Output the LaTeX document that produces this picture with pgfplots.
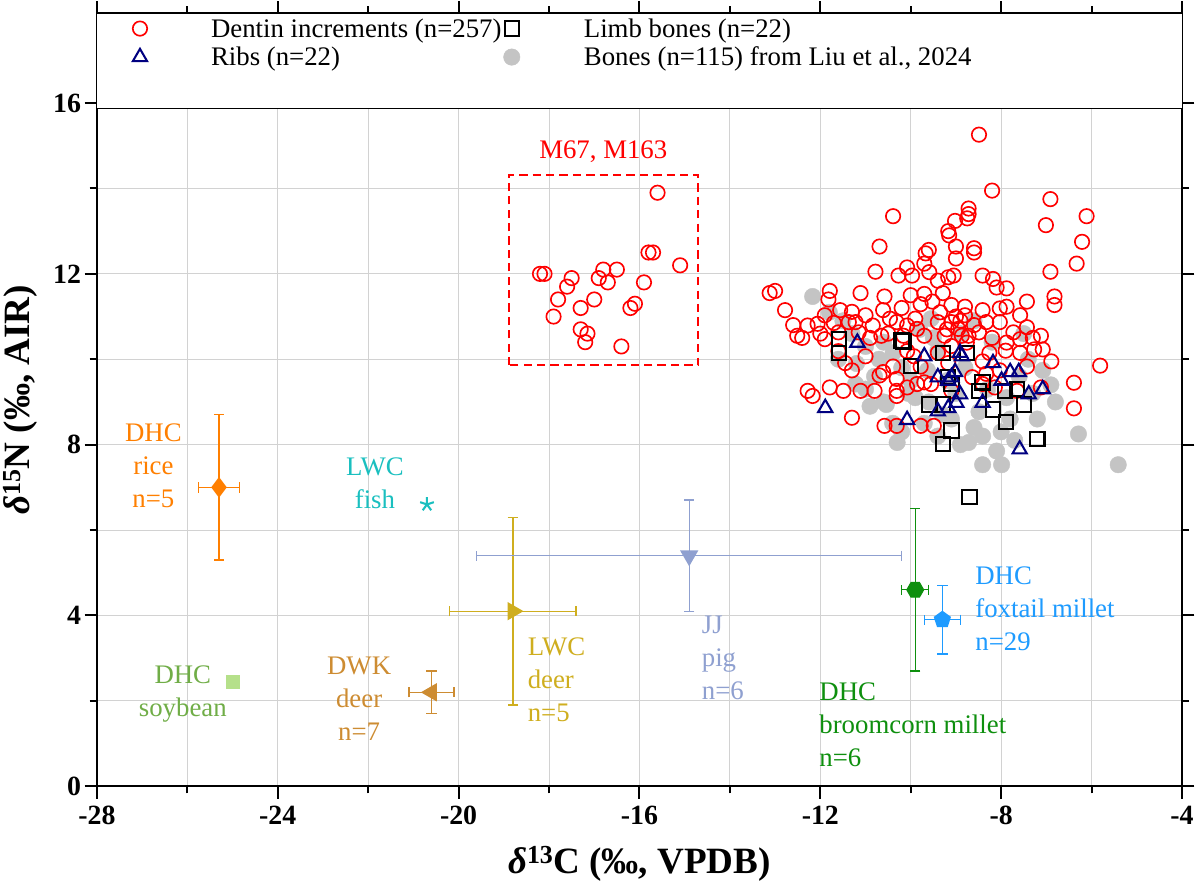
\documentclass[border=0pt]{standalone}
\usepackage{pgfplots}
\pgfplotsset{compat=1.18}
\usepackage{fontspec}
\setmainfont{Liberation Serif}
\pgfdeclareplotmark{hexagon*}{%
  \pgfpathmoveto{\pgfqpointpolar{0}{1.15\pgfplotmarksize}}%
  \pgfpathlineto{\pgfqpointpolar{60}{1.15\pgfplotmarksize}}%
  \pgfpathlineto{\pgfqpointpolar{120}{1.15\pgfplotmarksize}}%
  \pgfpathlineto{\pgfqpointpolar{180}{1.15\pgfplotmarksize}}%
  \pgfpathlineto{\pgfqpointpolar{240}{1.15\pgfplotmarksize}}%
  \pgfpathlineto{\pgfqpointpolar{300}{1.15\pgfplotmarksize}}%
  \pgfpathclose\pgfusepathqfillstroke}
\definecolor{cRice}{HTML}{FF7F00}
\definecolor{cFish}{HTML}{1ABFBF}
\definecolor{cSoyM}{HTML}{B5E08A}
\definecolor{cSoyT}{HTML}{70AD47}
\definecolor{cDWK}{HTML}{CD8C32}
\definecolor{cLWC}{HTML}{CFAE1F}
\definecolor{cPig}{HTML}{8FA0D0}
\definecolor{cBroom}{HTML}{0E8F0E}
\definecolor{cFox}{HTML}{1E9BFF}
\definecolor{cNavy}{HTML}{000080}
\definecolor{cGray}{HTML}{C4C4C4}
\begin{document}
\begin{tikzpicture}
\begin{axis}[
  scale only axis, width=1053pt, height=750pt,
  xmin=-28, xmax=-4, ymin=0, ymax=18.1,
  xtick={-28,-24,-20,-16,-12,-8,-4},
  xticklabels={-28,-24,-20,-16,-12,-8,-4},
  ytick={0,4,8,12,16},
  minor tick num=1,
  tick align=outside,
  major tick length=12pt, minor tick length=7pt,
  every tick/.style={black, line width=2pt},
  axis line style={line width=2pt},
  grid=both,
  major grid style={gray!35, line width=1pt},
  minor grid style={gray!35, line width=1pt},
  /pgf/number format/assume math mode=true,
  ticklabel style={font=\fontsize{27}{32}\selectfont\bfseries},
  xticklabel style={yshift=-4pt},
  xlabel={\fontsize{36}{40}\selectfont\bfseries{\itshape δ}\textsuperscript{13}C (‰, VPDB)},
  ylabel={\fontsize{36}{40}\selectfont\bfseries{\itshape δ}\textsuperscript{15}N (‰, AIR)},
  xlabel style={yshift=-14pt},
  ylabel style={yshift=8pt},
  legend columns=2,
  legend style={draw=none, fill=none, at={(0.03,0.999)}, anchor=north west,
    font=\fontsize{26}{30}\selectfont, row sep=4pt,
    /tikz/every odd column/.append style={column sep=60pt}},
  legend cell align=left,
]
% legend images
\addlegendimage{only marks, mark=o, mark size=7pt, red, line width=1.6pt}
\addlegendentry{Dentin increments (n=257)}
\addlegendimage{only marks, mark=square, mark size=7pt, black, line width=2pt}
\addlegendentry{Limb bones (n=22)}
\addlegendimage{only marks, mark=triangle, mark size=8pt, cNavy, line width=2pt}
\addlegendentry{Ribs (n=22)}
\addlegendimage{only marks, mark=*, mark size=8pt, cGray, draw=cGray}
\addlegendentry{Bones (n=115) from Liu et al., 2024}

% gray bones
\addplot[only marks, mark=*, mark size=8pt, color=cGray, forget plot] coordinates {
(-12.17,11.47)(-11.8,11.1)(-11.5,10.9)(-11.3,10.6)(-11.0,10.3)(-11.22,9.42)(-11.0,9.3)(-10.8,9.6)
(-10.54,8.94)(-10.3,8.05)(-10.4,8.5)(-10.6,9.0)(-10.39,10.15)(-10.2,9.8)(-10.0,9.5)(-9.9,9.1)
(-9.63,9.74)(-9.55,10.95)(-9.5,10.5)(-9.4,10.2)(-9.6,9.0)(-9.3,8.7)(-9.1,8.6)(-9.0,9.2)
(-8.8,9.8)(-8.72,8.05)(-8.6,8.4)(-8.49,8.77)(-8.41,8.2)(-8.41,7.53)(-8.1,7.85)(-7.99,7.53)
(-7.88,9.1)(-7.8,8.6)(-7.6,9.6)(-7.4,10.0)(-7.08,9.74)(-7.3,9.2)(-6.9,9.4)(-6.29,8.25)
(-5.41,7.53)(-8.2,10.4)(-8.9,10.6)(-9.8,10.7)(-10.6,10.4)(-11.2,9.9)(-10.9,8.9)(-10.2,8.3)
(-9.4,8.2)(-8.3,9.3)(-8.0,8.3)(-7.7,8.1)(-7.2,8.6)(-6.8,9.0)(-9.2,9.5)(-10.05,9.2)
(-10.7,10.0)(-11.6,10.0)(-8.6,10.9)(-7.5,10.6)(-9.7,8.5)(-8.9,8.0)};

% red dentin
\addplot[only marks, mark=o, mark size=7pt, red, line width=1.6pt, forget plot] coordinates {
(-18.2,12.0)(-18.1,12.0)(-17.9,11.0)(-17.8,11.4)(-17.6,11.7)(-17.5,11.9)(-17.3,11.2)(-17.3,10.7)
(-17.2,10.4)(-17.15,10.6)(-17.0,11.4)(-16.9,11.9)(-16.8,12.1)(-16.7,11.8)(-16.5,12.1)(-16.4,10.3)
(-16.2,11.2)(-16.1,11.3)(-15.9,11.8)(-15.8,12.5)(-15.7,12.5)(-15.6,13.9)(-15.1,12.2)
(-8.49,15.26)(-8.20,13.95)(-6.91,13.75)(-6.11,13.35)(-7.01,13.14)(-6.21,12.75)(-6.33,12.24)
(-10.39,13.35)(-10.69,12.64)(-8.72,13.53)(-8.72,13.4)(-8.75,13.3)(-9.02,13.24)(-9.17,13.0)(-9.15,12.9)(-8.6,12.6)(-8.6,12.5)
(-9.0,12.64)(-9.0,12.36)(-9.67,12.48)(-9.6,12.56)(-9.7,12.24)(-10.78,12.05)(-10.08,12.15)
(-10.27,11.96)(-9.97,11.96)(-9.59,12.04)(-9.4,11.84)(-9.17,11.92)(-9.05,11.96)(-8.41,11.96)
(-8.18,11.88)(-6.91,12.05)(-8.1,11.68)(-7.88,11.66)(-6.82,11.47)(-6.82,11.27)(-7.43,11.35)
(-13.12,11.55)(-13.0,11.6)(-12.78,11.15)(-11.79,11.6)(-11.82,11.4)(-11.11,11.55)(-10.58,11.47)
(-9.7,11.53)(-10.0,11.5)(-9.78,11.29)(-9.52,11.35)(-9.29,11.55)(-9.1,11.27)(-8.8,11.23)
(-8.41,11.15)(-8.03,11.19)(-7.88,11.23)(-7.58,11.03)(-11.3,11.11)(-11.56,11.15)(-11.0,11.03)
(-10.61,11.15)(-10.46,10.95)(-12.28,10.79)(-12.51,10.55)(-12.06,10.83)(-11.9,11.03)
(-11.37,10.87)(-11.22,10.87)(-11.6,10.63)(-11.15,10.63)(-10.84,10.79)(-10.65,10.55)(-10.31,10.87)
(-10.08,10.79)(-9.86,10.71)(-10.16,10.55)(-9.7,10.55)(-9.4,10.87)(-9.1,10.87)(-8.8,11.03)
(-8.95,10.71)(-8.72,10.55)(-8.49,10.63)(-8.33,10.87)(-8.03,10.87)(-7.73,10.63)(-7.43,10.75)
(-7.12,10.55)(-7.58,10.47)(-7.27,10.23)(-7.08,10.23)(-6.89,9.95)(-5.81,9.85)(-6.39,9.45)
(-6.39,8.85)(-7.43,9.83)(-7.58,10.15)(-7.88,10.39)(-8.26,10.15)(-8.41,9.95)(-8.03,9.74)
(-7.12,9.34)(-7.65,9.26)(-11.9,10.47)(-11.45,9.91)(-11.3,9.74)(-11.6,10.19)(-11.0,10.07)
(-10.61,9.7)(-10.69,9.62)(-10.39,9.83)(-10.31,9.54)(-10.08,10.19)(-9.93,10.07)(-9.78,9.83)
(-9.86,9.42)(-9.7,9.46)(-10.31,9.26)(-10.31,9.14)(-10.08,9.34)(-12.28,9.26)(-12.17,9.14)
(-11.79,9.34)(-11.49,9.26)(-11.11,9.26)(-10.8,9.26)(-11.3,8.63)(-10.58,8.44)(-10.31,8.44)
(-9.78,8.44)(-9.49,8.44)(-9.55,9.42)(-9.17,9.91)(-9.4,10.15)(-9.25,10.55)(-9.1,10.31)
(-8.87,10.55)(-8.76,10.39)(-8.64,9.58)(-8.33,9.66)(-8.41,9.42)(-8.14,9.34)(-9.1,9.26)
(-9.0,11.0)(-8.9,10.9)(-9.2,10.7)(-8.6,10.8)(-9.35,11.1)(-10.9,10.5)(-10.5,10.6)(-12.0,10.6)
(-12.6,10.8)(-11.7,10.85)(-10.2,11.2)(-9.9,10.95)(-8.2,10.5)(-7.9,10.2)(-7.3,10.5)(-12.4,10.5)};

% limb bones
\addplot[only marks, mark=square, mark size=7pt, black, line width=2pt, forget plot] coordinates {
(-11.59,10.47)(-11.59,10.15)(-10.2,10.44)(-9.99,9.84)(-9.29,10.15)(-8.76,10.15)(-9.1,9.42)
(-8.41,9.46)(-8.49,9.26)(-7.92,9.26)(-7.65,9.3)(-9.59,8.94)(-9.29,8.94)(-8.18,8.82)(-7.5,8.94)
(-7.89,8.53)(-9.1,8.33)(-9.29,8.01)(-7.2,8.13)(-8.7,6.77)(-9.17,9.58)(-10.16,10.42)};

% ribs
\addplot[only marks, mark=triangle, mark size=8pt, cNavy, line width=2pt, forget plot] coordinates {
(-11.18,10.39)(-11.89,8.86)(-9.7,10.07)(-9.4,9.58)(-9.1,9.58)(-8.91,10.15)(-8.87,10.07)
(-9.17,9.5)(-9.02,9.7)(-8.91,9.18)(-8.99,8.98)(-9.17,8.86)(-9.4,8.78)(-10.08,8.58)(-8.41,8.98)
(-8.18,9.91)(-7.99,9.5)(-7.8,9.7)(-7.61,9.7)(-7.39,9.18)(-7.08,9.3)(-7.59,7.89)};

% food sources with error bars
\pgfplotsset{eb/.style={/pgfplots/error bars/.cd, x dir=both, x explicit, y dir=both, y explicit,
  error bar style={line width=1.3pt}, error mark options={rotate=90, mark size=5pt, line width=1.3pt}, /pgfplots/.cd}}
\addplot[only marks, forget plot, line width=1.3pt, color=cRice, mark=diamond*, mark size=9pt, eb] coordinates {(-25.3,7.0) +- (0.45,1.7)};
\addplot[only marks, forget plot, color=cFish, mark=star, mark size=7pt, line width=2pt] coordinates {(-20.7,6.6)};
\addplot[only marks, forget plot, color=cSoyM, mark=square*, mark size=6pt] coordinates {(-25.0,2.45)};
\addplot[only marks, forget plot, line width=1.3pt, color=cDWK, mark=triangle*, mark size=9pt, mark options={rotate=90}, eb] coordinates {(-20.6,2.2) +- (0.5,0.5)};
\addplot[only marks, forget plot, line width=1.3pt, color=cLWC, mark=triangle*, mark size=9pt, mark options={rotate=-90}, eb] coordinates {(-18.8,4.1) +- (1.4,2.2)};
\addplot[only marks, forget plot, line width=1.3pt, color=cPig, mark=triangle*, mark size=9pt, mark options={rotate=180}, eb] coordinates {(-14.9,5.4) +- (4.7,1.3)};
\addplot[only marks, forget plot, line width=1.3pt, color=cBroom, mark=hexagon*, mark size=7pt, eb] coordinates {(-9.9,4.6) +- (0.3,1.9)};
\addplot[only marks, forget plot, line width=1.3pt, color=cFox, mark=pentagon*, mark size=8pt, eb] coordinates {(-9.3,3.9) +- (0.4,0.8)};

% legend area
\fill[white] (axis cs:-28,15.88) rectangle (axis cs:-4,18.1);
\draw[line width=1.2pt] (axis cs:-28,15.88) -- (axis cs:-4,15.88);
\draw[line width=2pt] (axis cs:-28,18.1) -- (axis cs:-4,18.1);

% dashed box
\draw[red, line width=1.6pt, dash pattern=on 8pt off 5pt] (axis cs:-18.89,9.86) rectangle (axis cs:-14.70,14.32);
\node[red, font=\fontsize{26}{30}\selectfont] at (axis cs:-16.8,14.85) {M67, M163};

% labels
\tikzset{lab/.style={font=\fontsize{26}{32}\selectfont, align=center}}
\node[lab, cRice] at (axis cs:-26.75,7.5) {DHC\\rice\\n=5};
\node[lab, cFish] at (axis cs:-21.85,7.1) {LWC\\fish};
\node[lab, cSoyT] at (axis cs:-26.1,2.17) {DHC\\soybean};
\node[lab, cDWK] at (axis cs:-22.2,2.05) {DWK\\deer\\n=7};
\node[lab, cLWC, align=left, anchor=west] at (axis cs:-18.55,2.5) {LWC\\deer\\n=5};
\node[lab, cPig, align=left, anchor=west] at (axis cs:-14.7,3.0) {JJ\\pig\\n=6};
\node[lab, cBroom, align=left, anchor=west] at (axis cs:-12.1,1.45) {DHC\\broomcorn millet\\n=6};
\node[lab, cFox, align=left, anchor=west] at (axis cs:-8.65,4.15) {DHC\\foxtail millet\\n=29};
\end{axis}
\end{tikzpicture}
\end{document}
